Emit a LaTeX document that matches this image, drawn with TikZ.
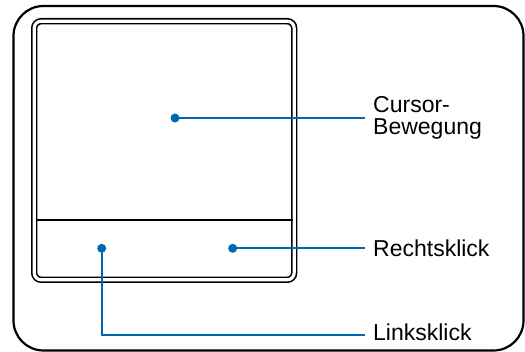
\documentclass[tikz,border=0pt]{standalone}
\usepackage{fontspec}
\setmainfont{Liberation Sans}
\usetikzlibrary{positioning}
\definecolor{padblue}{RGB}{0,104,178}

\begin{document}
\begin{tikzpicture}[
    x=1pt, y=-1pt,
    frame/.style={draw, line width=2.2pt, rounded corners=30pt},
    pad/.style={draw, double, double distance=3.2pt, line width=1.6pt, rounded corners=7pt,
                minimum width=260pt, minimum height=258.6pt, inner sep=0pt},
    dot/.style={circle, fill=padblue, minimum size=9pt, inner sep=0pt},
    lbl/.style={anchor=west, align=left, inner xsep=8pt, inner ysep=0pt,
                font=\fontsize{23}{21.7}\selectfont},
    lead/.style={draw=padblue, line width=1.8pt}
  ]
  \useasboundingbox (0,0) rectangle (525,352);
  \draw[frame] (13.5,6) rectangle (523.5,350.5);

  % touchpad with its two buttons
  \node[pad] (pad) at (164.2,150.5) {};
  \coordinate (split) at (0,220);
  \draw[line width=1.6pt] ([xshift=2.4pt]pad.west |- split) -- ([xshift=-2.4pt]pad.east |- split);

  \node[dot] (move)   at (175,118) {};
  \node[dot] (lclick) at (101.7,248.3) {};
  \node[dot] (rclick) at (232.7,248.3) {};

  \node[lbl] (movelbl)   at (365,118)   {Cursor-\\Bewegung};
  \node[lbl] (rclicklbl) at (365,248.3) {Rechtsklick};
  \node[lbl] (lclicklbl) at (365,332)   {Linksklick};

  \draw[lead] (move.center) -- (movelbl.west);
  \draw[lead] (rclick.center) -- (rclicklbl.west);
  \draw[lead] (lclick.center) |- ([yshift=-3pt]lclicklbl.west);
\end{tikzpicture}
\end{document}
